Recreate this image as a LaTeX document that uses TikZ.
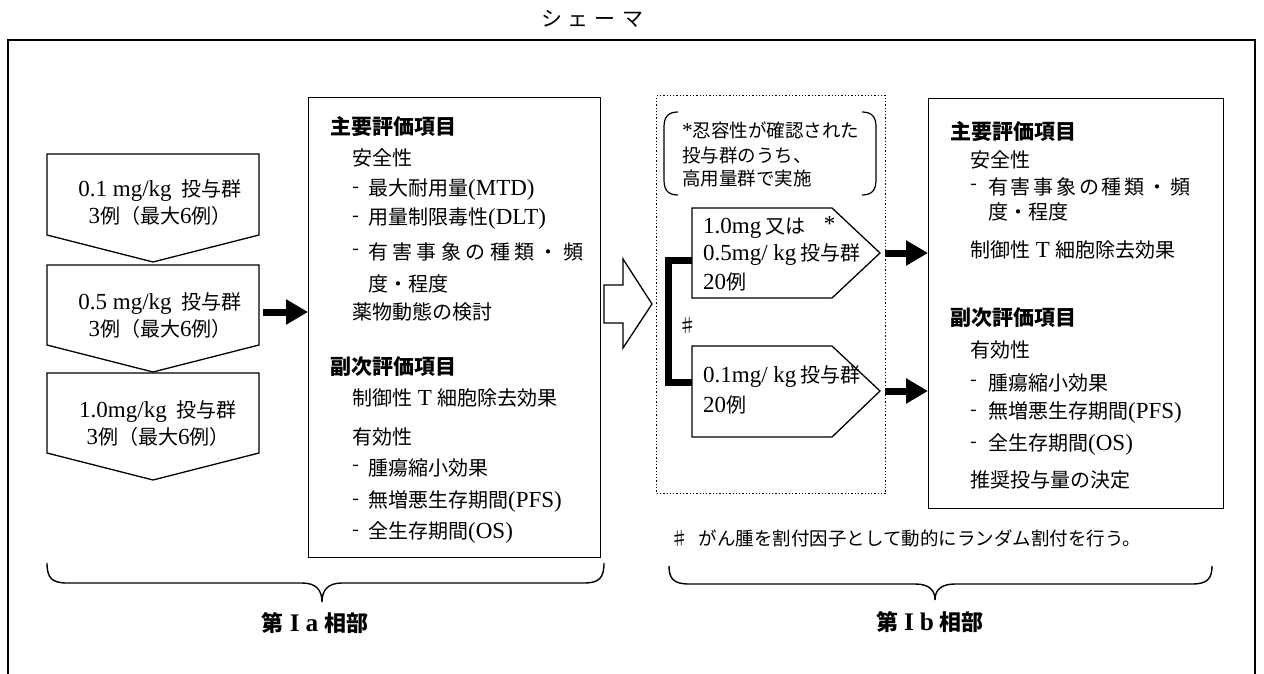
\documentclass[tikz,border=0pt]{standalone}
\usepackage{fontspec}
\setmainfont{Noto Sans CJK JP}
\newfontfamily\lt[Scale=1.15]{Liberation Serif}
\usetikzlibrary{arrows.meta}
\newcommand\R[1]{{\lt #1}}
\begin{document}
\begin{tikzpicture}[x=1pt,y=-1pt,line join=miter]
\tikzset{
  frame/.style={line width=1.5pt},
  shapeline/.style={line width=1.3pt},
  box/.style={draw,line width=1.4pt,anchor=north west,inner sep=0pt},
  fat/.style={line width=7pt,-{Triangle[length=22pt,width=24pt]}},
  txt/.style={anchor=west,inner sep=0pt,font=\fontsize{20}{24}\selectfont},
  small/.style={anchor=west,inner sep=0pt,font=\fontsize{18.5}{22}\selectfont},
  hd/.style={anchor=west,inner sep=0pt,font=\fontsize{21}{24}\selectfont\bfseries},
  ctext/.style={align=center,inner sep=0pt,font=\fontsize{20}{27}\selectfont},
  lbl/.style={inner sep=0pt,font=\fontsize{22}{26}\selectfont\bfseries},
  brace/.style={line width=1.4pt}
}
\useasboundingbox (0,0) rectangle (1264,674);

% title and frame
\node[inner sep=0pt,font=\fontsize{21}{24}\selectfont] (title) at (592,19) {シ\hspace{6pt}ェ\hspace{6pt}ー\hspace{6pt}マ};
\draw[frame] (8,674) -- (8,40) -- (1255,40) -- (1255,674);

% --- Phase Ia: dose chevrons
\draw[shapeline] (47,154) -- (259,154) -- (259,235) -- (153,262) -- (47,235) -- cycle;
\draw[shapeline] (47,265) -- (259,265) -- (259,345) -- (153,372) -- (47,345) -- cycle;
\draw[shapeline] (47,373) -- (259,373) -- (259,453) -- (153,480) -- (47,453) -- cycle;
\node[ctext] (c1) at (160,203) {\R{0.1 mg/kg}\hspace{0.5em}投与群\\\R{3}例（最大\R{6}例）};
\node[ctext] (c2) at (160,316) {\R{0.5 mg/kg}\hspace{0.5em}投与群\\\R{3}例（最大\R{6}例）};
\node[ctext] (c3) at (158,424) {\R{1.0mg/kg}\hspace{0.5em}投与群\\\R{3}例（最大\R{6}例）};
\coordinate (c2e) at (263,312);

% --- Phase Ia: endpoints box
\node[box,minimum width=292pt,minimum height=460pt] (ia) at (308,97) {};
\draw[fat] (c2e) -- (c2e -| ia.west);

\node[hd]  (ia1)  at (330,127) {主要評価項目};
\node[txt] (ia2)  at (352,158) {安全性};
\node[txt] (ia3d) at (352,190) {-};
\node[txt] (ia3)  at (368,190) {最大耐用量\R{(MTD)}};
\node[txt] (ia4d) at (352,219) {-};
\node[txt] (ia4)  at (368,219) {用量制限毒性\R{(DLT)}};
\node[txt] (ia5d) at (352,252) {-};
\node[txt] (ia5)  at (368,252) {\hbox to 215pt{有\hfil 害\hfil 事\hfil 象\hfil の\hfil 種\hfil 類\hfil ・\hfil 頻}};
\node[txt] (ia6)  at (368,284) {度・程度};
\node[txt] (ia7)  at (352,312) {薬物動態の検討};
\node[hd]  (ia8)  at (330,367) {副次評価項目};
\node[txt] (ia9)  at (352,398) {制御性\R{ T }細胞除去効果};
\node[txt] (ia10) at (352,437) {有効性};
\node[txt] (ia11d) at (352,468) {-};
\node[txt] (ia11) at (368,468) {腫瘍縮小効果};
\node[txt] (ia12d) at (352,502) {-};
\node[txt] (ia12) at (368,502) {無増悪生存期間\R{(PFS)}};
\node[txt] (ia13d) at (352,533) {-};
\node[txt] (ia13) at (368,533) {全生存期間\R{(OS)}};

% --- hollow transition arrow
\draw[shapeline] (604,285) -- (623,285) -- (623,259) -- (652,304) -- (623,348) -- (623,323) -- (604,323) -- cycle;

% --- Phase Ib group (dotted)
\node[draw,dotted,line width=1.3pt,anchor=north west,inner sep=0pt,minimum width=229pt,minimum height=398pt] (grp) at (656,95) {};
\draw[line width=1.2pt] (678,112) .. controls (668,112) and (664,117) .. (664,127) -- (664,180) .. controls (664,190) and (668,195) .. (678,195);
\draw[line width=1.2pt] (862,112) .. controls (872,112) and (876,117) .. (876,127) -- (876,180) .. controls (876,190) and (872,195) .. (862,195);
\node[small] (n1) at (682,130) {\R{*}忍容性が確認された};
\node[small] (n2) at (682,155) {投与群のうち、};
\node[small] (n3) at (682,179) {高用量群で実施};

\draw[shapeline] (692,208) -- (832,208) -- (880,253) -- (832,298) -- (692,298) -- cycle;
\draw[shapeline] (692,346) -- (832,346) -- (880,391) -- (832,437) -- (692,437) -- cycle;
\node[txt] (g1a) at (703,227) {\R{1.0mg} 又は\hspace{18pt}\raisebox{2pt}{\R{*}}};
\node[txt] (g1b) at (703,255) {\R{0.5mg/ kg} 投与群};
\node[txt] (g1c) at (703,282) {\R{20}例};
\node[txt] (g2a) at (703,377) {\R{0.1mg/ kg} 投与群};
\node[txt] (g2b) at (703,405) {\R{20}例};

\coordinate (p1) at (692,260);
\coordinate (p2) at (692,382);
\draw[line width=7pt] (p1) -- ++(-24,0) |- (p2);
\node[small] (sharp) at (678,325) {♯};

% --- Phase Ib endpoints box
\node[box,minimum width=295pt,minimum height=410pt] (ib) at (928,98) {};
\coordinate (a1) at (885,253);
\coordinate (a2) at (885,391);
\draw[fat] (a1) -- (a1 -| ib.west);
\draw[fat] (a2) -- (a2 -| ib.west);

\node[hd]  (ib1)  at (950,132) {主要評価項目};
\node[txt] (ib2)  at (970,160) {安全性};
\node[txt] (ib3d) at (970,187) {-};
\node[txt] (ib3)  at (988,187) {\hbox to 202pt{有\hfil 害\hfil 事\hfil 象\hfil の\hfil 種\hfil 類\hfil ・\hfil 頻}};
\node[txt] (ib4)  at (988,212) {度・程度};
\node[txt] (ib5)  at (970,250) {制御性\R{ T }細胞除去効果};
\node[hd]  (ib6)  at (950,318) {副次評価項目};
\node[txt] (ib7)  at (970,350) {有効性};
\node[txt] (ib8d) at (970,383) {-};
\node[txt] (ib8)  at (988,383) {腫瘍縮小効果};
\node[txt] (ib9d) at (970,413) {-};
\node[txt] (ib9)  at (988,413) {無増悪生存期間\R{(PFS)}};
\node[txt] (ib10d) at (970,445) {-};
\node[txt] (ib10) at (988,445) {全生存期間\R{(OS)}};
\node[txt] (ib11) at (970,480) {推奨投与量の決定};

\node[small] (note) at (670,538) {♯\hspace{10pt}がん腫を割付因子として動的にランダム割付を行う。};

% --- braces and phase labels
\draw[brace] (47,563) .. controls (47,578) and (52,583) .. (67,583) -- (302,583)
  .. controls (316,583) and (322,590) .. (322,602)
  .. controls (322,590) and (328,583) .. (342,583) -- (584,583)
  .. controls (599,583) and (604,578) .. (604,563);
\draw[brace] (669,566) .. controls (669,579) and (674,584) .. (689,584) -- (915,584)
  .. controls (929,584) and (935,590) .. (935,600)
  .. controls (935,590) and (941,584) .. (955,584) -- (1192,584)
  .. controls (1207,584) and (1212,579) .. (1212,566);
\node[lbl] (la) at (315,623) {第\hspace{6pt}\R{I\hspace{6pt}a}\hspace{6pt}相部};
\node[lbl] (lb) at (930,622) {第\hspace{6pt}\R{I\hspace{6pt}b}\hspace{6pt}相部};
\end{tikzpicture}
\end{document}
